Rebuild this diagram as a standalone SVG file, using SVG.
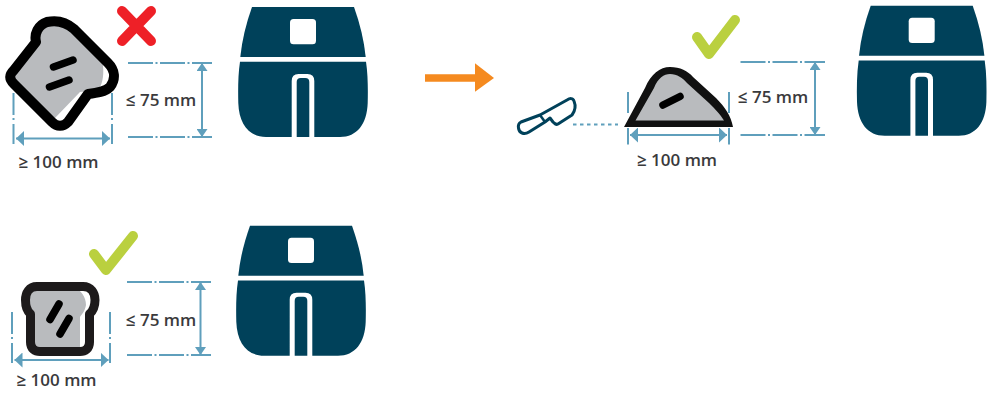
<svg xmlns="http://www.w3.org/2000/svg" width="994" height="393" viewBox="0 0 994 393">
<style>
.lbl{font-family:"Open Sans","Liberation Sans",sans-serif;font-size:17px;font-weight:600;fill:#3a3a3c;text-anchor:middle}
.dim{stroke:#5f9fbc;stroke-width:2;fill:none}
.dd{stroke:#5f9fbc;stroke-width:2;fill:none;stroke-dasharray:25 2.500 2 2.500}
.dv{stroke:#5f9fbc;stroke-width:2;fill:none;stroke-dasharray:22 3 2 4 20}
.av{stroke:#5f9fbc;stroke-width:2;fill:none;marker-start:url(#av);marker-end:url(#av)}
.ah{stroke:#5f9fbc;stroke-width:2;fill:none;marker-start:url(#ah);marker-end:url(#ah)}
.edge{fill:none;stroke:#000;stroke-width:10;stroke-linejoin:round}
.grey{fill:#b9bbbe}
.bar{stroke:#000;stroke-width:7.500;stroke-linecap:round;fill:none}
.ok{stroke:#bad03f;stroke-width:10;stroke-linecap:round;stroke-linejoin:round;fill:none}
.no{stroke:#ee2027;stroke-width:10;stroke-linecap:round;fill:none}
</style>
<defs>
<marker id="av" markerWidth="8" markerHeight="11" refX="8" refY="5.500" orient="auto-start-reverse" markerUnits="userSpaceOnUse"><path d="M0 0L8 5.500L0 11Z" fill="#5f9fbc"/></marker>
<marker id="ah" markerWidth="8" markerHeight="15" refX="8" refY="7.500" orient="auto-start-reverse" markerUnits="userSpaceOnUse"><path d="M0 0L8 7.500L0 15Z" fill="#5f9fbc"/></marker>
<g id="fryer">
<path d="M252 7H354C360 24 364 40 365.700 57H240.300C242 40 246 24 252 7Z" fill="#00415a"/>
<path d="M240 61.700H366C368 75 368 90 367.700 103C367 124 357 137 340 137H314.300V81Q314.300 74 307.500 74H298.500Q291.700 74 291.700 81V137H266C249 137 239 124 238.300 103C238 90 238 75 240 61.700Z" fill="#00415a"/>
<path d="M296.700 137V82Q296.700 78 300.700 78H305.300Q309.300 78 309.300 82V137Z" fill="#00415a"/>
<rect x="290" y="19" width="26" height="25.300" rx="3.500" fill="#fff"/>
</g>
</defs>

<g id="connectors">
<path d="M425 78H476" stroke="#f58a1f" stroke-width="7.700" fill="none"/>
<path d="M475 63.300L494 78L475 91.700Z" fill="#f58a1f"/>
<path d="M573 124.500H618" stroke="#5f9fbc" stroke-width="2" stroke-dasharray="3.500 3.500" fill="none"/>
</g>

<g id="fryer-1"><use href="#fryer"/></g>
<g id="fryer-2"><use href="#fryer" x="618.700" y="-1.300"/></g>
<g id="fryer-3"><use href="#fryer" x="-2" y="218.700"/></g>

<g id="dim-1">
<path class="dd" d="M128 63H212M128 137H212"/>
<path class="av" d="M202 63V137"/>
<path class="dv" d="M13.500 93V146M112 93V146"/>
<path class="ah" d="M16 138.500H110"/>
<text class="lbl" x="161" y="105.500">≤ 75 mm</text>
<text class="lbl" x="58.500" y="167.500">≥ 100 mm</text>
</g>
<g id="toast-rejected">
<path d="M36 42C34 34 38 25 47 22C56 20 66 22 74 29L108 63C115 70 116 79 110 87C105 92 97 93 88 94L68 122C63 127 57 127 52 122L14 84C9 79 9 75 14 70Z" fill="#fff"/>
<path class="grey" d="M36 42C34 34 38 25 47 22C56 20 66 22 74 29L102 60C104 68 104 80 100 87C94 92 86 91 80 92L55 118L14 84C9 79 9 75 14 70Z"/>
<path class="edge" d="M36 42C34 34 38 25 47 22C56 20 66 22 74 29L108 63C115 70 116 79 110 87C105 92 97 93 88 94L68 122C63 127 57 127 52 122L14 84C9 79 9 75 14 70Z"/>
<path class="bar" d="M53.500 67L73 60"/>
<path class="bar" d="M49.500 87L69 80"/>
</g>
<g id="mark-no"><path class="no" d="M122 11L151 41M151 11L122 41"/></g>

<g id="dim-2">
<path class="dd" d="M740.500 62H825M740.500 135H825"/>
<path class="av" d="M815 62V135"/>
<path class="dim" d="M628 92V113M628 128V144.500M729 92V113M729 128V144.500"/>
<path class="ah" d="M630 135H727"/>
<text class="lbl" x="773" y="103">≤ 75 mm</text>
<text class="lbl" x="677" y="166">≥ 100 mm</text>
</g>
<g id="toast-cut">
<path d="M624 127L645 88C651 74 660 67 670 67C680 67 688 71 693 77L716 98C725 107 731 116 733 127Z" fill="#111"/>
<path class="grey" d="M635.500 120.500L654 88C658 78 664 74 670 74C677 74 683 78 687 83L709 103C716 110 720 114 724 120.500Z"/>
<path class="bar" d="M663 105L680 96.500"/>
</g>
<g id="mark-ok-2"><path class="ok" d="M697 37L709 54L735 20"/></g>
<g id="knife">
<path d="M518.500 128C518 125 519 123 521 122L540 115L567 100C570 98 573 98 574 101C576 106 575 111 572 115L558 124C556 125 555 124 553 122L550 118L545 122L529 132C524 135 519 133 518.500 128Z" fill="#fff" stroke="#00415a" stroke-width="3" stroke-linejoin="round"/>
<path d="M540 115L545 122" stroke="#00415a" stroke-width="2.500" fill="none"/>
</g>

<g id="dim-3">
<path class="dd" d="M127 282H211M127 355H211"/>
<path class="av" d="M200.500 282V355"/>
<path class="dv" d="M12 312V365.500M110 312V365.500"/>
<path class="ah" d="M14.500 360H108.500"/>
<text class="lbl" x="161" y="326">≤ 75 mm</text>
<text class="lbl" x="56.500" y="386">≥ 100 mm</text>
</g>
<g id="toast-ok">
<path d="M37 286.500H83C91 286.500 95 293 95 300C95 307 93 311 89.500 314V342C89.500 349 85 351.500 80 351.500H40C35 351.500 30.500 349 30.500 342V314C27 311 25.500 307 25.500 300C25.500 293 29 286.500 37 286.500Z" fill="#fff"/>
<path class="grey" d="M37 286.500H73C81 290 86 297 86 305C85 311 82 314 80 317V351.500H40C35 351.500 30.500 349 30.500 342V314C27 311 25.500 307 25.500 300C25.500 293 29 286.500 37 286.500Z"/>
<path d="M37 286.500H83C91 286.500 95 293 95 300C95 307 93 311 89.500 314V342C89.500 349 85 351.500 80 351.500H40C35 351.500 30.500 349 30.500 342V314C27 311 25.500 307 25.500 300C25.500 293 29 286.500 37 286.500Z" fill="none" stroke="#1d1a1b" stroke-width="9" stroke-linejoin="round"/>
<path class="bar" d="M50 319.500L59 304"/>
<path class="bar" d="M60 334L69 318.500"/>
</g>
<g id="mark-ok-3"><path class="ok" d="M94 254L106 270L133 236"/></g>
</svg>
